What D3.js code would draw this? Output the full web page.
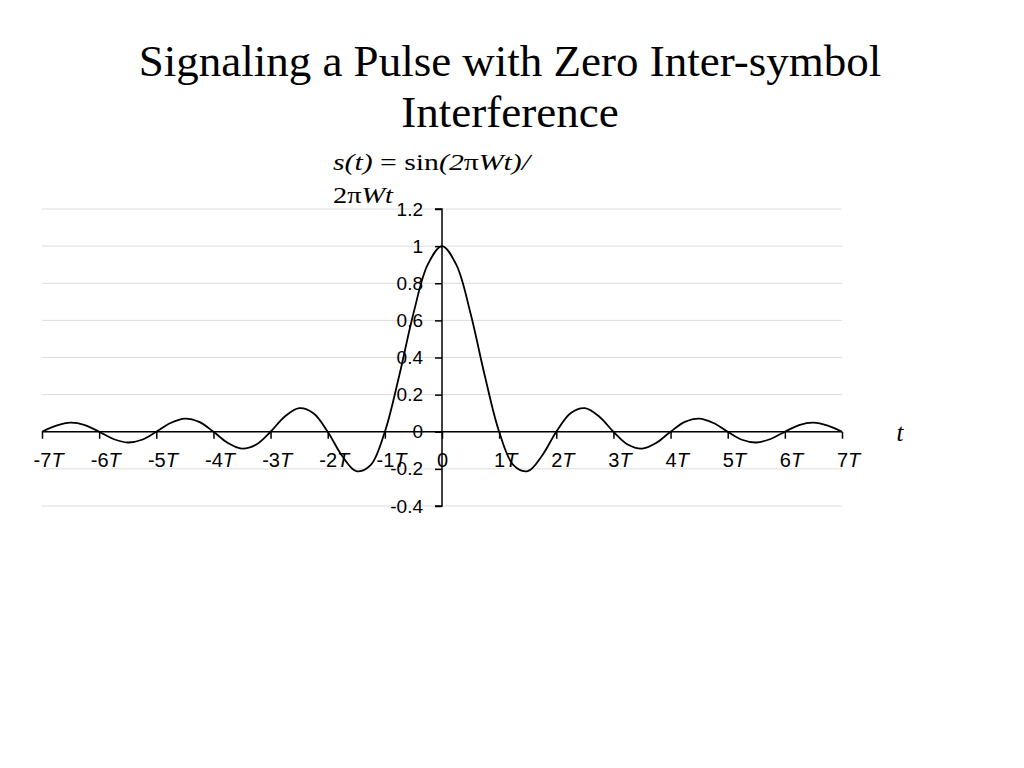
<!DOCTYPE html>
<html><head><meta charset="utf-8">
<script src="https://cdn.jsdelivr.net/npm/d3@7"></script>
<style>body{margin:0;background:#fff}svg{display:block}</style>
</head><body>
<script>
const tValues = [-7,-6.75,-6.5,-6.25,-6,-5.75,-5.5,-5.25,-5,-4.75,-4.5,-4.25,-4,-3.75,-3.5,-3.25,-3,-2.75,-2.5,-2.25,-2,-1.75,-1.5,-1.25,-1,-0.75,-0.5,-0.25,0,
  0.25,0.5,0.75,1,1.25,1.5,1.75,2,2.25,2.5,2.75,3,3.25,3.5,3.75,4,4.25,4.5,4.75,5,5.25,5.5,5.75,6,6.25,6.5,6.75,7];
const sValues = [0,0.033,0.049,0.036,0,-0.039,-0.058,-0.043,0,0.047,0.071,0.053,0,-0.06,-0.091,-0.069,0,0.082,0.127,0.1,0,-0.129,-0.212,-0.18,0,0.3,0.637,0.9,1,
  0.9,0.637,0.3,0,-0.18,-0.212,-0.129,0,0.1,0.127,0.082,0,-0.069,-0.091,-0.06,0,0.053,0.071,0.047,0,-0.043,-0.058,-0.039,0,0.036,0.049,0.033,0];
const xTicks = [-7,-6,-5,-4,-3,-2,-1,0,1,2,3,4,5,6,7];
const yTicks = [-0.4,-0.2,0,0.2,0.4,0.6,0.8,1,1.2];
const yTickLabels = ["-0.4","-0.2","0","0.2","0.4","0.6","0.8","1","1.2"];

const W = 1024, H = 768;
const svg = d3.select("body").append("svg").attr("width", W).attr("height", H);

const x = d3.scaleLinear().domain([-7, 7]).range([42, 842]);
const y = d3.scaleLinear().domain([-0.4, 1.2]).range([506, 209]);

// Title
const title = svg.append("text").attr("text-anchor", "middle")
  .attr("font-family", "Liberation Serif, Times New Roman, serif").attr("font-size", 45).attr("fill", "#000");
title.append("tspan").attr("x", 510).attr("y", 76).text("Signaling a Pulse with Zero Inter-symbol");
title.append("tspan").attr("x", 510).attr("y", 127).text("Interference");

// gridlines
svg.append("g").selectAll("line").data(yTicks).join("line")
  .attr("x1", x(-7)).attr("x2", x(7)).attr("y1", d => y(d)).attr("y2", d => y(d))
  .attr("stroke", "#dcdcdc").attr("stroke-width", 1);

// Y axis at x = 0
const yAxis = svg.append("g").attr("transform", `translate(${x(0)},0)`)
  .call(d3.axisLeft(y).tickValues(yTicks).tickSize(7).tickPadding(12).tickFormat((d, i) => yTickLabels[i]));
yAxis.select(".domain").attr("stroke", "#000").attr("stroke-width", 1.5).attr("d", `M-7,${y(1.2)}H0V${y(-0.4)}H-7`);
yAxis.selectAll(".tick line").attr("stroke", "#000").attr("stroke-width", 1.5);
yAxis.selectAll(".tick text").attr("font-family", "Liberation Sans, Arial, sans-serif").attr("font-size", 19).attr("fill", "#000");

// X axis at y = 0
const xAxis = svg.append("g").attr("transform", `translate(0,${y(0)})`)
  .call(d3.axisBottom(x).tickValues(xTicks).tickSize(7).tickFormat(""));
xAxis.select(".domain").attr("stroke", "#000").attr("stroke-width", 1.5).attr("d", `M${x(-7)},0H${x(7)}`);
xAxis.selectAll(".tick line").attr("stroke", "#000").attr("stroke-width", 1.5);
xAxis.selectAll(".tick").each(function(d) {
  const t = d3.select(this).append("text").attr("y", 35).attr("text-anchor", "start")
    .attr("font-family", "Liberation Sans, Arial, sans-serif").attr("font-size", 20).attr("fill", "#000");
  const num = t.append("tspan").text(d === 0 ? "0" : String(d).replace("\u2212", "-"));
  const wNum = num.node().getComputedTextLength();
  t.attr("x", -wNum / 2);
  if (d !== 0) t.append("tspan").attr("font-style", "italic").text("T");
});

// Curve
const line = d3.line().x((d, i) => x(tValues[i])).y(d => y(d)).curve(d3.curveCatmullRom.alpha(0.5));
svg.append("path").datum(sValues).attr("d", line).attr("fill", "none").attr("stroke", "#000").attr("stroke-width", 1.8);

// Formula label
const f = svg.append("text").attr("font-family", "Liberation Serif, Times New Roman, serif").attr("font-size", 24).attr("fill", "#000")
  .attr("x", 333).attr("y", 170).attr("textLength", 197).attr("lengthAdjust", "spacingAndGlyphs");
f.append("tspan").attr("font-style", "italic").text("s(t)");
f.append("tspan").text(" = sin");
f.append("tspan").attr("font-style", "italic").text("(2");
f.append("tspan").text("π");
f.append("tspan").attr("font-style", "italic").text("Wt)/");
const l2 = svg.append("text").attr("font-family", "Liberation Serif, Times New Roman, serif").attr("font-size", 24).attr("fill", "#000")
  .attr("x", 333).attr("y", 203).attr("textLength", 60).attr("lengthAdjust", "spacingAndGlyphs");
l2.append("tspan").text("2π");
l2.append("tspan").attr("font-style", "italic").text("Wt");

// axis title t
svg.append("text").attr("x", 900).attr("y", 441).attr("text-anchor", "middle")
  .attr("font-family", "Liberation Serif, Times New Roman, serif").attr("font-style", "italic").attr("font-size", 25).text("t");
</script>
</body></html>
